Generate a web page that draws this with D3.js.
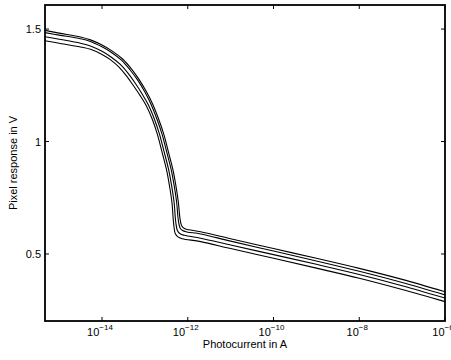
<!DOCTYPE html>
<html>
<head>
<meta charset="utf-8">
<script src="https://d3js.org/d3.v7.min.js"></script>
<style>
  body { margin: 0; background: #fff; }
  text { font-family: "Liberation Sans", Arial, sans-serif; fill: #000; }
</style>
</head>
<body>
<svg id="chart" width="451" height="360"></svg>
<script>
// log10 of photocurrent (A) and pixel response (V) for the four curves
var curveAx = [-15.33, -15.0, -14.5, -14.27, -14.0, -13.76, -13.52, -13.31, -13.13, -12.96, -12.82, -12.68, -12.56, -12.45, -12.35, -12.28, -12.22, -12.18, -12.14, -12.08, -11.98, -11.7, -11, -10, -9, -8, -7, -6];
var curveAy = [1.494, 1.482, 1.465, 1.452, 1.429, 1.402, 1.367, 1.322, 1.274, 1.220, 1.167, 1.100, 1.033, 0.953, 0.878, 0.807, 0.731, 0.656, 0.624, 0.613, 0.608, 0.599, 0.568, 0.524, 0.481, 0.436, 0.387, 0.332];
var curveBx = [-15.33, -15.0, -14.5, -14.27, -14.0, -13.77, -13.54, -13.34, -13.16, -13.0, -12.86, -12.72, -12.60, -12.49, -12.39, -12.32, -12.26, -12.22, -12.18, -12.12, -12.02, -11.7, -11, -10, -9, -8, -7, -6];
var curveBy = [1.484, 1.473, 1.457, 1.445, 1.421, 1.395, 1.361, 1.317, 1.271, 1.220, 1.167, 1.100, 1.033, 0.953, 0.878, 0.807, 0.731, 0.650, 0.616, 0.604, 0.598, 0.589, 0.557, 0.513, 0.469, 0.423, 0.373, 0.318];
var curveCx = [-15.33, -15.0, -14.5, -14.27, -14.0, -13.79, -13.58, -13.39, -13.22, -13.06, -12.92, -12.78, -12.66, -12.55, -12.45, -12.38, -12.32, -12.28, -12.24, -12.18, -12.08, -11.7, -11, -10, -9, -8, -7, -6];
var curveCy = [1.466, 1.455, 1.437, 1.425, 1.401, 1.376, 1.344, 1.303, 1.258, 1.210, 1.163, 1.100, 1.033, 0.953, 0.878, 0.807, 0.731, 0.642, 0.603, 0.590, 0.583, 0.570, 0.540, 0.497, 0.454, 0.409, 0.359, 0.304];
var curveDx = [-15.33, -15.0, -14.5, -14.27, -14.0, -13.80, -13.61, -13.43, -13.27, -13.11, -12.97, -12.83, -12.71, -12.60, -12.50, -12.43, -12.37, -12.33, -12.29, -12.23, -12.13, -11.7, -11, -10, -9, -8, -7, -6];
var curveDy = [1.448, 1.437, 1.420, 1.410, 1.387, 1.363, 1.332, 1.292, 1.249, 1.204, 1.160, 1.100, 1.033, 0.953, 0.878, 0.807, 0.731, 0.636, 0.590, 0.576, 0.568, 0.555, 0.524, 0.481, 0.437, 0.392, 0.342, 0.288];

var xTickExps = [-14, -12, -10, -8, -6];
var yTicks = [0.5, 1, 1.5];
var yTickLabels = ['0.5', '1', '1.5'];

var svg = d3.select('#chart');
var plotLeft = 45, plotRight = 445, plotTop = 5, plotBottom = 321;

var x = d3.scaleLog().domain([Math.pow(10, -15.33), 1e-6]).range([plotLeft, plotRight]);
var y = d3.scaleLinear().domain([0.202, 1.607]).range([plotBottom, plotTop]);

// curves
var series = [[curveAx, curveAy], [curveBx, curveBy], [curveCx, curveCy], [curveDx, curveDy]];
var line = d3.line()
  .x(function(d) { return x(Math.pow(10, d[0])); })
  .y(function(d) { return y(d[1]); })
  .curve(d3.curveCatmullRom.alpha(0.5));

svg.append('clipPath').attr('id', 'clip')
  .append('rect').attr('x', plotLeft).attr('y', plotTop)
  .attr('width', plotRight - plotLeft).attr('height', plotBottom - plotTop);

svg.append('g').attr('clip-path', 'url(#clip)')
  .selectAll('path')
  .data(series)
  .enter()
  .append('path')
    .attr('d', function(s) { return line(d3.zip(s[0], s[1])); })
    .attr('fill', 'none')
    .attr('stroke', '#000')
    .attr('stroke-width', 1.1);

// box
svg.append('rect')
  .attr('x', plotLeft).attr('y', plotTop)
  .attr('width', plotRight - plotLeft).attr('height', plotBottom - plotTop)
  .attr('fill', 'none').attr('stroke', '#000').attr('stroke-width', 1.8);

// x ticks (inward, bottom and top)
var xt = svg.append('g');
xTickExps.forEach(function(e) {
  var px = x(Math.pow(10, e));
  xt.append('line').attr('x1', px).attr('x2', px).attr('y1', plotBottom).attr('y2', plotBottom - 4).attr('stroke', '#000');
  xt.append('line').attr('x1', px).attr('x2', px).attr('y1', plotTop).attr('y2', plotTop + 4).attr('stroke', '#000');
  var t = xt.append('text').attr('x', px - 2).attr('y', 336).attr('text-anchor', 'middle').attr('font-size', 11);
  t.append('tspan').text('10');
  t.append('tspan').attr('dy', -6).attr('font-size', 8).text('\u2212' + Math.abs(e));
});

// y ticks (inward, left and right)
var yt = svg.append('g');
yTicks.forEach(function(v, i) {
  var py = y(v);
  yt.append('line').attr('x1', plotLeft).attr('x2', plotLeft + 4).attr('y1', py).attr('y2', py).attr('stroke', '#000');
  yt.append('line').attr('x1', plotRight).attr('x2', plotRight - 4).attr('y1', py).attr('y2', py).attr('stroke', '#000');
  yt.append('text').attr('x', 41).attr('y', py + 4).attr('text-anchor', 'end').attr('font-size', 11).text(yTickLabels[i]);
});

// axis labels
svg.append('text')
  .attr('x', (plotLeft + plotRight) / 2).attr('y', 348)
  .attr('text-anchor', 'middle').attr('font-size', 11)
  .text('Photocurrent in A');

svg.append('text')
  .attr('transform', 'translate(17,' + ((plotTop + plotBottom) / 2) + ') rotate(-90)')
  .attr('text-anchor', 'middle').attr('font-size', 11)
  .text('Pixel response in V');
</script>
</body>
</html>
